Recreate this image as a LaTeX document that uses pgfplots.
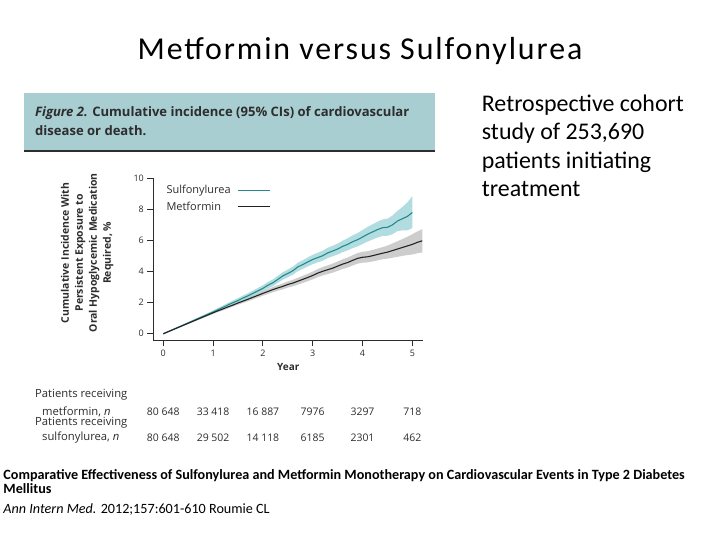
\documentclass[border=0pt]{standalone}
\usepackage{pgfplots}
\pgfplotsset{compat=1.18}
\usepackage{pgfplotstable}
\usepackage{fontspec}
\setmainfont{Carlito}
\newfontfamily\chartfont{Open Sans}
\definecolor{tealline}{RGB}{38,136,142}
\definecolor{tealband}{RGB}{165,216,219}
\definecolor{grayband}{RGB}{205,205,205}
\definecolor{blackline}{RGB}{35,35,35}
\definecolor{headerfill}{RGB}{168,206,210}
\definecolor{txtdark}{RGB}{45,45,45}

% cumulative incidence, sulfonylurea
\pgfplotstableread{
x mid
0.0 0.00
0.1 0.14
0.2 0.28
0.3 0.42
0.4 0.56
0.5 0.70
0.6 0.84
0.7 0.98
0.8 1.12
0.9 1.26
1.0 1.40
1.1 1.55
1.2 1.70
1.3 1.86
1.4 2.00
1.5 2.14
1.6 2.30
1.7 2.44
1.8 2.60
1.9 2.76
2.0 2.92
2.1 3.12
2.2 3.28
2.3 3.50
2.4 3.72
2.5 3.88
2.6 4.05
2.7 4.30
2.8 4.45
2.9 4.62
3.0 4.78
3.1 4.90
3.2 5.02
3.3 5.20
3.4 5.32
3.5 5.45
3.6 5.62
3.7 5.75
3.8 5.92
3.9 6.05
4.0 6.22
4.1 6.40
4.2 6.55
4.3 6.70
4.4 6.82
4.5 6.85
4.6 7.00
4.7 7.25
4.8 7.40
4.9 7.55
5.0 7.80
}\sulf

% 95% CI band, sulfonylurea (upper bound forward, lower bound back)
\pgfplotstableread{
x y
0.0 0.00
0.1 0.15
0.2 0.30
0.3 0.45
0.4 0.60
0.5 0.75
0.6 0.90
0.7 1.05
0.8 1.20
0.9 1.35
1.0 1.50
1.1 1.66
1.2 1.82
1.3 1.99
1.4 2.14
1.5 2.29
1.6 2.46
1.7 2.61
1.8 2.78
1.9 2.95
2.0 3.12
2.1 3.33
2.2 3.50
2.3 3.73
2.4 3.96
2.5 4.13
2.6 4.31
2.7 4.57
2.8 4.73
2.9 4.91
3.0 5.08
3.1 5.21
3.2 5.34
3.3 5.53
3.4 5.66
3.5 5.80
3.6 5.99
3.7 6.14
3.8 6.33
3.9 6.48
4.0 6.67
4.1 6.87
4.2 7.04
4.3 7.21
4.4 7.35
4.5 7.40
4.6 7.60
4.7 7.90
4.8 8.15
4.9 8.45
5.0 8.85
5.0 6.80
4.9 6.65
4.8 6.65
4.7 6.60
4.6 6.40
4.5 6.30
4.4 6.29
4.3 6.19
4.2 6.06
4.1 5.93
4.0 5.77
3.9 5.62
3.8 5.51
3.7 5.36
3.6 5.25
3.5 5.10
3.4 4.98
3.3 4.87
3.2 4.70
3.1 4.59
3.0 4.48
2.9 4.33
2.8 4.17
2.7 4.03
2.6 3.79
2.5 3.63
2.4 3.48
2.3 3.27
2.2 3.06
2.1 2.91
2.0 2.72
1.9 2.57
1.8 2.42
1.7 2.27
1.6 2.14
1.5 1.99
1.4 1.86
1.3 1.73
1.2 1.58
1.1 1.44
1.0 1.30
0.9 1.17
0.8 1.04
0.7 0.91
0.6 0.78
0.5 0.65
0.4 0.52
0.3 0.39
0.2 0.26
0.1 0.13
0.0 0.00
}\sulfband

% cumulative incidence, metformin
\pgfplotstableread{
x mid
0.0 0.00
0.1 0.135
0.2 0.27
0.3 0.405
0.4 0.54
0.5 0.675
0.6 0.81
0.7 0.945
0.8 1.08
0.9 1.215
1.0 1.35
1.1 1.48
1.2 1.60
1.3 1.73
1.4 1.85
1.5 1.98
1.6 2.10
1.7 2.22
1.8 2.35
1.9 2.47
2.0 2.60
2.1 2.72
2.2 2.84
2.3 2.95
2.4 3.05
2.5 3.17
2.6 3.26
2.7 3.38
2.8 3.50
2.9 3.62
3.0 3.75
3.1 3.90
3.2 4.02
3.3 4.12
3.4 4.22
3.5 4.35
3.6 4.48
3.7 4.58
3.8 4.72
3.9 4.85
4.0 4.92
4.1 4.95
4.2 5.02
4.3 5.10
4.4 5.18
4.5 5.25
4.6 5.35
4.7 5.45
4.8 5.55
4.9 5.65
5.0 5.75
5.1 5.88
5.2 5.98
}\metf

% 95% CI band, metformin
\pgfplotstableread{
x y
0.0 0.00
0.1 0.14
0.2 0.28
0.3 0.43
0.4 0.57
0.5 0.71
0.6 0.85
0.7 1.00
0.8 1.14
0.9 1.28
1.0 1.43
1.1 1.56
1.2 1.69
1.3 1.83
1.4 1.95
1.5 2.09
1.6 2.22
1.7 2.35
1.8 2.49
1.9 2.61
2.0 2.75
2.1 2.88
2.2 3.01
2.3 3.13
2.4 3.24
2.5 3.37
2.6 3.47
2.7 3.60
2.8 3.73
2.9 3.86
3.0 4.00
3.1 4.16
3.2 4.29
3.3 4.40
3.4 4.51
3.5 4.65
3.6 4.79
3.7 4.90
3.8 5.05
3.9 5.19
4.0 5.27
4.1 5.31
4.2 5.39
4.3 5.48
4.4 5.57
4.5 5.67
4.6 5.81
4.7 5.95
4.8 6.09
4.9 6.24
5.0 6.40
5.1 6.58
5.2 6.73
5.2 5.23
5.1 5.18
5.0 5.10
4.9 5.06
4.8 5.01
4.7 4.95
4.6 4.89
4.5 4.83
4.4 4.79
4.3 4.72
4.2 4.65
4.1 4.59
4.0 4.57
3.9 4.51
3.8 4.39
3.7 4.26
3.6 4.17
3.5 4.05
3.4 3.93
3.3 3.84
3.2 3.75
3.1 3.64
3.0 3.50
2.9 3.38
2.8 3.27
2.7 3.16
2.6 3.05
2.5 2.97
2.4 2.86
2.3 2.77
2.2 2.67
2.1 2.56
2.0 2.45
1.9 2.33
1.8 2.21
1.7 2.09
1.6 1.98
1.5 1.87
1.4 1.75
1.3 1.63
1.2 1.51
1.1 1.40
1.0 1.27
0.9 1.15
0.8 1.02
0.7 0.89
0.6 0.77
0.5 0.64
0.4 0.51
0.3 0.38
0.2 0.26
0.1 0.13
0.0 0.00
}\metfband

\begin{document}
\begin{tikzpicture}
\fill[white] (0,0) rectangle (720bp,-540bp);
\path[use as bounding box] (0,0) rectangle (720bp,-540bp);

% slide title
\node[anchor=base, font=\fontsize{32}{38}\selectfont\addfontfeatures{LetterSpace=6}] at (360bp,-59bp) {Metformin versus Sulfonylurea};

% figure header
\fill[headerfill] (24bp,-93bp) rectangle (435bp,-151bp);
\draw[line width=1.3bp, color=txtdark] (24bp,-151bp) -- (435bp,-151bp);
\node[anchor=base west, inner sep=0pt, font=\chartfont\bfseries\fontsize{13.1}{15}\selectfont, text=txtdark] at (35bp,-116bp) {\textit{Figure 2.} Cumulative incidence (95\% CIs) of cardiovascular};
\node[anchor=base west, inner sep=0pt, font=\chartfont\bfseries\fontsize{13.1}{15}\selectfont, text=txtdark] at (35bp,-135bp) {disease or death.};

\begin{axis}[
  at={(153.3bp,-340.3bp)}, anchor=south west,
  scale only axis, width=270bp, height=162bp,
  xmin=-0.2, xmax=5.22, ymin=-0.42, ymax=10,
  axis lines=left,
  axis line style={-, line width=1.1bp, color=txtdark},
  xtick={0,1,2,3,4,5}, ytick={0,2,4,6,8,10},
  tick align=outside, major tick length=6bp,
  tick style={line width=0.9bp, color=txtdark},
  tick label style={font=\chartfont\fontsize{9}{10}\selectfont, text=txtdark},
  /pgf/number format/assume math mode=true,
  xlabel={Year},
  xlabel style={font=\chartfont\bfseries\fontsize{10}{12}\selectfont, text=txtdark, yshift=0bp},
  ylabel={Cumulative Incidence With\\Persistent Exposure to\\Oral Hypoglycemic Medication\\Required, \%},
  ylabel style={align=center, font=\chartfont\bfseries\fontsize{10.5}{14}\selectfont, text=txtdark,
     at={(rel axis cs:-0.245,0.54)}, anchor=center},
  legend style={at={(rel axis cs:0.03,0.985)}, anchor=north west, draw=none, fill=none,
     font=\chartfont\fontsize{11}{12}\selectfont, text=txtdark, row sep=3bp},
  legend cell align=left,
  legend plot pos=right,
  legend image code/.code={\path (0bp,0bp); \draw[#1, line width=0.7bp] (5bp,0bp) -- (37bp,0bp);},
  clip=false,
]
\addplot[fill=grayband, draw=none, forget plot] table[x=x,y=y]{\metfband};
\addplot[fill=tealband, fill opacity=0.85, draw=none, forget plot] table[x=x,y=y]{\sulfband};
\addplot[tealline, line width=1.1bp] table[x=x,y=mid]{\sulf};
\addlegendentry{Sulfonylurea}
\addplot[blackline, line width=1.1bp] table[x=x,y=mid]{\metf};
\addlegendentry{Metformin}
\end{axis}

% at-risk table
\begin{scope}[every node/.style={font=\chartfont\fontsize{11.3}{13}\selectfont, text=txtdark, inner sep=0pt}]
\node[anchor=west] at (35bp,-395bp) {Patients receiving};
\node[anchor=west] at (42bp,-411.7bp) {metformin, \textit{n}};
\node[anchor=west] at (35bp,-423bp) {Patients receiving};
\node[anchor=west] at (42bp,-438bp) {sulfonylurea, \textit{n}};
\end{scope}
\begin{scope}[every node/.style={font=\chartfont\fontsize{10.5}{13}\selectfont, text=txtdark, inner sep=0pt}]
\foreach \v [count=\i from 0] in {80 648,33 418,16 887,7976,3297,718}
  \node at (163.3bp+\i*49.8bp,-411.7bp) {\v};
\foreach \v [count=\i from 0] in {80 648,29 502,14 118,6185,2301,462}
  \node at (163.3bp+\i*49.8bp,-438bp) {\v};
\end{scope}

% right text
\node[anchor=base west, align=left, inner sep=0pt, font=\fontsize{24}{28.5}\selectfont] at (481.7bp,-196.5bp)
  {Retrospective cohort\\study of 253,690\\patients initiating\\treatment};

% reference
\node[anchor=base west, inner sep=0pt, font=\bfseries\fontsize{14.2}{14}\selectfont] at (3.3bp,-479bp)
  {Comparative Effectiveness of Sulfonylurea and Metformin Monotherapy on Cardiovascular Events in Type 2 Diabetes};
\node[anchor=base west, inner sep=0pt, font=\bfseries\fontsize{14.2}{14}\selectfont] at (3.3bp,-493.5bp) {Mellitus};
\node[anchor=base west, inner sep=0pt, font=\fontsize{14.2}{14}\selectfont] at (3.3bp,-513.3bp)
  {\textit{Ann Intern Med.} 2012;157:601-610 Roumie CL};
\end{tikzpicture}
\end{document}
